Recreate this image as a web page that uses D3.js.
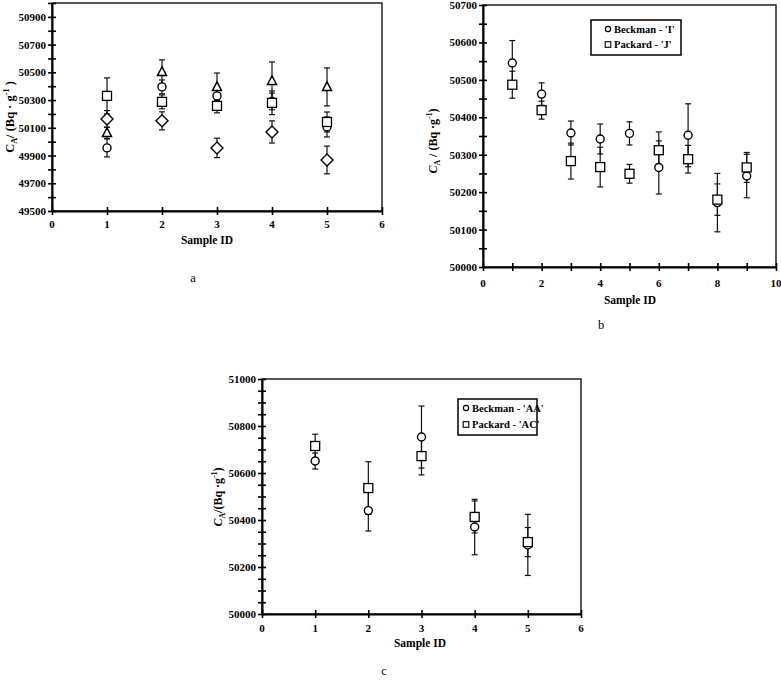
<!DOCTYPE html>
<html><head><meta charset="utf-8">
<script src="https://cdn.jsdelivr.net/npm/d3@7"></script>
<style>body{margin:0;background:#fff}svg{display:block}text{font-family:"Liberation Serif","Times New Roman",serif}</style>
</head><body><svg id="c" width="781" height="680"></svg>
<script>
// ---- Panel a data ----
const aSamples=[1,2,3,4,5];
const aCircle=[49955,50395,50330,50290,50106];
const aCircleErr=[65,50,45,60,72];
const aTriangle=[50063,50503,50395,50438,50395];
const aTriangleErr=[40,87,100,137,137];
const aSquare=[50330,50287,50258,50280,50142];
const aSquareErr=[130,50,50,85,72];
const aDiamond=[50164,50150,49955,50070,49868];
const aDiamondErr=[60,65,70,80,100];
const aYTickLabels=[49500,49700,49900,50100,50300,50500,50700,50900];
const aXTickLabels=[0,1,2,3,4,5,6];
// ---- Panel b data ----
const bSamples=[1,2,3,4,5,6,7,8,9];
const bBeckman=[50545,50462,50358,50342,50357,50266,50352,50172,50243];
const bBeckmanErr=[60,30,32,40,31,71,84,78,58];
const bPackard=[50487,50419,50283,50267,50249,50312,50288,50180,50266];
const bPackardErr=[36,24,48,53,25,49,37,42,40];
const bYTickLabels=[50000,50100,50200,50300,50400,50500,50600,50700];
const bXTickLabels=[0,2,4,6,8,10];
const bLegend=["Beckman - 'I'","Packard - 'J'"];
// ---- Panel c data ----
const cSamples=[1,2,3,4,5];
const cBeckman=[50651,50440,50753,50370,50294];
const cBeckmanErr=[34,87,132,118,130];
const cPackard=[50715,50536,50672,50413,50306];
const cPackardErr=[50,112,80,68,62];
const cYTickLabels=[50000,50200,50400,50600,50800,51000];
const cXTickLabels=[0,1,2,3,4,5,6];
const cLegend=["Beckman - 'AA'","Packard - 'AC'"];

const svg=d3.select("#c");

function marker(g,type,cx,cy){
  if(type==="circle") g.append("circle").attr("cx",cx).attr("cy",cy).attr("r",4).attr("fill","#fff").attr("stroke","#000").attr("stroke-width",1.4);
  else if(type==="square") g.append("rect").attr("x",cx-4.5).attr("y",cy-4.5).attr("width",9).attr("height",9).attr("fill","#fff").attr("stroke","#000").attr("stroke-width",1.3);
  else if(type==="triangle") g.append("path").attr("d",`M${cx},${cy-5}L${cx+4.5},${cy+3.5}L${cx-4.5},${cy+3.5}Z`).attr("fill","#fff").attr("stroke","#000").attr("stroke-width",1.5);
  else if(type==="diamond") g.append("path").attr("d",`M${cx},${cy-6}L${cx+6},${cy}L${cx},${cy+6}L${cx-6},${cy}Z`).attr("fill","#fff").attr("stroke","#000").attr("stroke-width",1.4);
}

function panel(o){
  const g=svg.append("g");
  const x=d3.scaleLinear().domain(o.xd).range(o.xr);
  const y=d3.scaleLinear().domain(o.yd).range(o.yr);
  g.append("rect").attr("x",o.xr[0]).attr("y",o.yr[1]).attr("width",o.xr[1]-o.xr[0]).attr("height",o.yr[0]-o.yr[1]).attr("fill","none").attr("stroke","#222").attr("stroke-width",1.5);
  const ya=d3.axisLeft(y).tickValues(d3.range(o.yd[0],o.yd[1]+1,o.yMinor)).tickSize(0).tickFormat("");
  const yg=g.append("g").attr("transform",`translate(${o.xr[0]},0)`).call(ya);
  yg.select(".domain").attr("stroke","#000").attr("stroke-width",2);
  yg.selectAll(".tick line").attr("x1",-4).attr("x2",4).attr("stroke","#000").attr("stroke-width",1.6);
  g.selectAll(null).data(o.yLabels).enter().append("text").attr("x",o.xr[0]-6).attr("y",d=>y(d)+4).attr("text-anchor","end").attr("font-size",11).attr("font-weight","bold").text(d=>d);
  const xa=d3.axisBottom(x).tickValues(d3.range(o.xd[0],o.xd[1]+1,1)).tickSize(0).tickFormat("");
  const xg=g.append("g").attr("transform",`translate(0,${o.yr[0]})`).call(xa);
  xg.select(".domain").attr("stroke","#000").attr("stroke-width",2);
  xg.selectAll(".tick line").attr("y1",-4).attr("y2",4).attr("stroke","#000").attr("stroke-width",1.6);
  g.selectAll(null).data(o.xLabels).enter().append("text").attr("x",d=>x(d)).attr("y",o.yr[0]+o.xLabOff).attr("text-anchor","middle").attr("font-size",11).attr("font-weight","bold").text(d=>d);
  g.append("text").attr("x",o.xTitle[0]).attr("y",o.xTitle[1]).attr("text-anchor","middle").attr("font-size",11.5).attr("font-weight","bold").text("Sample ID");
  const yt=g.append("text").attr("transform",`translate(${o.yTitle[0]},${o.yTitle[1]}) rotate(-90)`).attr("text-anchor","middle").attr("font-size",o.yTitleSize).attr("font-weight","bold");
  yt.append("tspan").attr("font-style",o.italicC?"italic":"normal").text("C");
  yt.append("tspan").attr("font-size",o.yTitleSize*0.65).attr("dy",3).text("A");
  yt.append("tspan").attr("dy",-3).text(o.yMid);
  yt.append("tspan").attr("font-size",o.yTitleSize*0.65).attr("dy",-5).text("-1");
  yt.append("tspan").attr("dy",5).text(o.yEnd);
  o.series.forEach(s=>{
    s.v.forEach((v,i)=>{
      const cx=x(o.samples[i]);
      const e=s.e[i];
      g.append("line").attr("x1",cx).attr("x2",cx).attr("y1",y(v-e)).attr("y2",y(v+e)).attr("stroke","#111").attr("stroke-width",1.2);
      [v-e,v+e].forEach(w=>g.append("line").attr("x1",cx-3).attr("x2",cx+3).attr("y1",y(w)).attr("y2",y(w)).attr("stroke","#111").attr("stroke-width",1.2));
    });
  });
  o.series.forEach(s=>{
    s.v.forEach((v,i)=>marker(g,s.type,x(o.samples[i]),y(v)));
  });
  if(o.legend){
    const L=o.legend;
    g.append("rect").attr("x",L.x).attr("y",L.y).attr("width",L.w).attr("height",L.h).attr("fill","#fff").attr("stroke","#000").attr("stroke-width",1.5);
    L.items.forEach((t,i)=>{
      const ly=L.y+L.first+i*L.step;
      if(i===0) g.append("circle").attr("cx",L.x+L.mx).attr("cy",ly).attr("r",2.6).attr("fill","#fff").attr("stroke","#000").attr("stroke-width",1.2);
      else g.append("rect").attr("x",L.x+L.mx-2.8).attr("y",ly-2.3).attr("width",5.6).attr("height",5.6).attr("fill","#fff").attr("stroke","#000").attr("stroke-width",1.1);
      g.append("text").attr("x",L.x+L.mx+6).attr("y",ly+3.5).attr("font-size",10.5).attr("font-weight","bold").text(t);
    });
  }
  g.append("text").attr("x",o.letter[0]).attr("y",o.letter[1]).attr("text-anchor","middle").attr("font-size",12.5).text(o.letter[2]);
}

panel({xd:[0,6],xr:[52,382],yd:[49500,51000],yr:[211,3],yMinor:100,yLabels:aYTickLabels,xLabels:aXTickLabels,xLabOff:17,
  xTitle:[207,244],yTitle:[14,117],yTitleSize:12.5,italicC:false,yMid:"/ (Bq · g",yEnd:" )",samples:aSamples,
  series:[{type:"circle",v:aCircle,e:aCircleErr},{type:"triangle",v:aTriangle,e:aTriangleErr},{type:"square",v:aSquare,e:aSquareErr},{type:"diamond",v:aDiamond,e:aDiamondErr}],
  letter:[193,282,"a"]});

panel({xd:[0,10],xr:[483,776],yd:[50000,50700],yr:[267,5],yMinor:50,yLabels:bYTickLabels,xLabels:bXTickLabels,xLabOff:20,
  xTitle:[630,304],yTitle:[437,141],yTitleSize:12,italicC:true,yMid:" / (Bq ·g",yEnd:")",samples:bSamples,
  series:[{type:"circle",v:bBeckman,e:bBeckmanErr},{type:"square",v:bPackard,e:bPackardErr}],
  legend:{x:591,y:20,w:90,h:35,first:9,step:15,mx:17,items:bLegend},
  letter:[601,329,"b"]});

panel({xd:[0,6],xr:[262,581],yd:[50000,51000],yr:[614,379],yMinor:50,yLabels:cYTickLabels,xLabels:cXTickLabels,xLabOff:18,
  xTitle:[420,647],yTitle:[222,497],yTitleSize:12,italicC:true,yMid:"/(Bq ·g",yEnd:")",samples:cSamples,
  series:[{type:"circle",v:cBeckman,e:cBeckmanErr},{type:"square",v:cPackard,e:cPackardErr}],
  legend:{x:458,y:399,w:79,h:36,first:9,step:16,mx:8,items:cLegend},
  letter:[384,675,"c"]});
</script></body></html>
